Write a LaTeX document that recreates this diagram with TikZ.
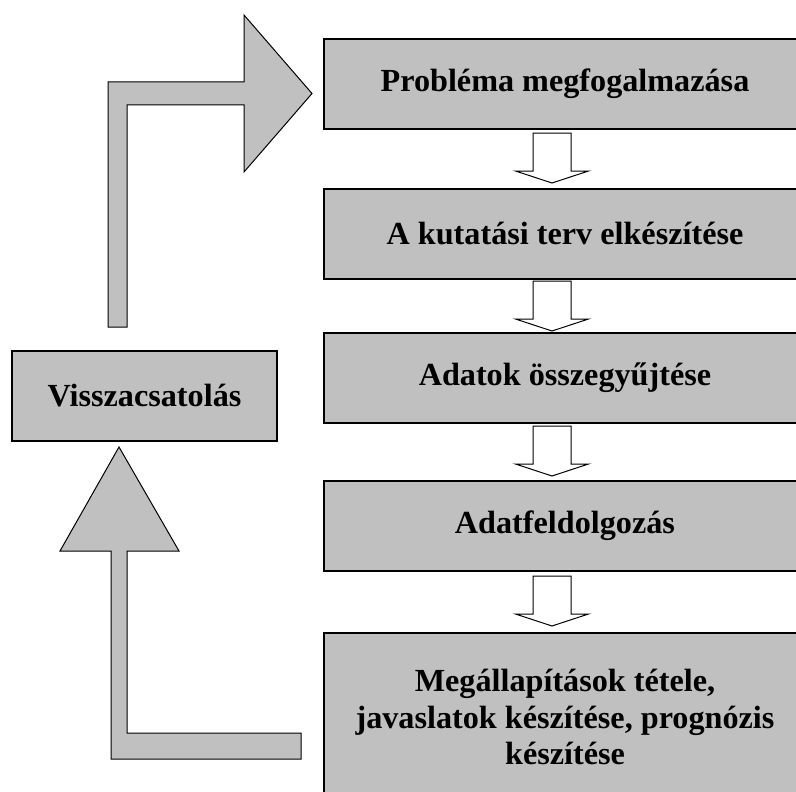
\documentclass[tikz,border=0pt]{standalone}
\usepackage{fontspec}
\setmainfont{Liberation Serif}
\definecolor{boxgray}{HTML}{C0C0C0}
\tikzset{
  stagebox/.style={draw=black, line width=1.3pt, fill=boxgray, inner sep=0pt,
    font=\bfseries\fontsize{32.2}{36.5}\selectfont, align=center},
  bigarrow/.style={draw=black, line width=1pt, fill=boxgray, line join=miter},
  downarr/.pic={\draw[draw=black, line width=1pt, fill=white, line join=miter]
      (-19,0) -- (-19,38) -- (-36.5,38) -- (0,50) -- (36.5,38) -- (19,38) -- (19,0) -- cycle;}
}
\begin{document}
\begin{tikzpicture}[x=1pt,y=-1pt]
\useasboundingbox (0,0) rectangle (796,792);
% stage boxes
\node[stagebox, minimum width=482pt, minimum height=90pt] (b1) at (565,84) {Probléma megfogalmazása};
\node[stagebox, minimum width=482pt, minimum height=90pt] (b2) at (565,234) {A kutatási terv elkészítése};
\node[stagebox, minimum width=482pt, minimum height=90pt] (b3) at (565,378) {Adatok összegyűjtése};
\node[stagebox, minimum width=482pt, minimum height=90pt] (b4) at (565,526) {Adatfeldolgozás};
\node[stagebox, minimum width=482pt, minimum height=168pt] (b5) at (565,717) {Megállapítások tétele,\\javaslatok készítése, prognózis\\készítése};
\node[stagebox, minimum width=265pt, minimum height=90pt] (fb) at (144.5,396) {Visszacsatolás};
% small down arrows
\pic at (552,133) {downarr};
\pic at (552,281) {downarr};
\pic at (552,426) {downarr};
\pic at (552,576) {downarr};
% big feedback arrows
\draw[bigarrow] (108,327) -- (108,82) -- (244,82) -- (244,15) -- (312,93.5) -- (244,172) -- (244,105) -- (127,105) -- (127,327) -- cycle;
\draw[bigarrow] (301,733) -- (127,733) -- (127,551) -- (179,551) -- (119,447) -- (60,551) -- (111,551) -- (111,759) -- (301,759) -- cycle;
\end{tikzpicture}
\end{document}
